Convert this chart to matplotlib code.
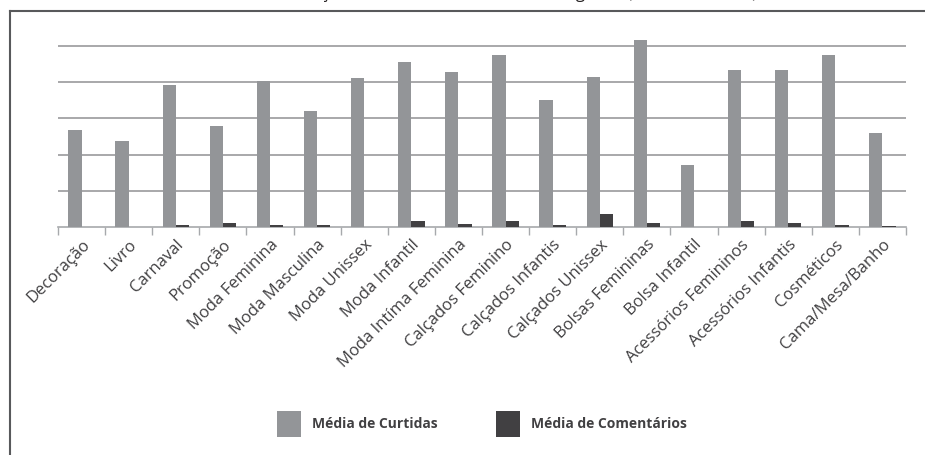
import matplotlib
matplotlib.use('Agg')
import matplotlib.pyplot as plt
import numpy as np
from matplotlib.lines import Line2D
from matplotlib.patches import Patch

# Data (gridline spacing = 1 unit)
categories = ['Decoração', 'Livro', 'Carnaval', 'Promoção', 'Moda Feminina',
              'Moda Masculina', 'Moda Unissex', 'Moda Infantil',
              'Moda Intíma Feminina', 'Calçados Feminino', 'Calçados Infantis',
              'Calçados Unissex', 'Bolsas Femininas', 'Bolsa Infantil',
              'Acessórios Femininos', 'Acessórios Infantis', 'Cosméticos',
              'Cama/Mesa/Banho']
media_curtidas = [2.68, 2.38, 3.92, 2.79, 4.03, 3.20, 4.12, 4.56, 4.28,
                  4.75, 3.51, 4.14, 5.17, 1.71, 4.34, 4.34, 4.75, 2.60]
media_comentarios = [0.0, 0.0, 0.06, 0.12, 0.06, 0.06, 0.0, 0.17, 0.09,
                     0.17, 0.06, 0.36, 0.12, 0.0, 0.17, 0.12, 0.06, 0.03]
series_labels = ['Média de Curtidas', 'Média de Comentários']
title_text = 'Interação Média dos Usuários nas Categorias (Média Absoluta)'

light = '#939598'
dark = '#414042'
text_color = '#414042'
font = 'Open Sans'

W, H = 925, 455
fig = plt.figure(figsize=(W / 100, H / 100), dpi=100)

# axes placed in pixel terms: baseline y=227, x from 58 to 906
px_per_unit = 36.2
ymax = 5.5
left, right, base = 58, 906, 227
ax = fig.add_axes([left / W, (H - base) / H, (right - left) / W, ymax * px_per_unit / H])

x = np.arange(len(categories))
w = 0.28
ax.bar(x - w / 2, media_curtidas, width=w, color=light, zorder=3)
ax.bar(x + w / 2, media_comentarios, width=w, color=dark, zorder=3)

ax.set_xlim(-0.5, len(categories) - 0.5)
ax.set_ylim(0, ymax)

# horizontal gridlines
for yv in range(1, 6):
    ax.axhline(yv, color='#9a9a9c', linewidth=1.2, zorder=1)

for s in ['top', 'right', 'left']:
    ax.spines[s].set_visible(False)
ax.spines['bottom'].set_color('#a7a9ac')
ax.spines['bottom'].set_linewidth(1.2)
ax.set_yticks([])

# labels at centers, tick marks at category boundaries
ax.set_xticks(x)
ax.set_xticklabels(categories, rotation=45, ha='right', rotation_mode='anchor',
                   fontsize=12, color=text_color, family=font)
ax.tick_params(axis='x', which='major', length=0, pad=7)
ax.set_xticks(np.arange(-0.5, len(categories), 1), minor=True)
ax.tick_params(axis='x', which='minor', length=6, width=1, color='#a7a9ac')

# legend
handles = [Patch(facecolor=light, edgecolor='none'), Patch(facecolor=dark, edgecolor='none')]
leg = fig.legend(handles, series_labels, loc='center', bbox_to_anchor=(482 / W, 1 - 424 / H),
                 ncol=2, frameon=False, handlelength=1.7, handleheight=2.4,
                 columnspacing=4.2, handletextpad=0.8,
                 prop={'family': font, 'weight': 'bold', 'size': 10})
for t in leg.get_texts():
    t.set_color(text_color)

# outer frame (only left and top edges fall inside the image)
frame_c = '#58595b'
fig.add_artist(Line2D([10 / W, 10 / W], [0, 1 - 11 / H], color=frame_c, linewidth=1.5,
                      transform=fig.transFigure))
fig.add_artist(Line2D([10 / W, 1], [1 - 11 / H, 1 - 11 / H], color=frame_c, linewidth=1.5,
                      transform=fig.transFigure))

# title sits above the crop, only its descenders peek in
fig.text(275 / W, 1 + 2 / H, title_text, ha='left', va='baseline',
         fontsize=12, family=font, color='#231f20')

fig.savefig('out.png', dpi=100)
